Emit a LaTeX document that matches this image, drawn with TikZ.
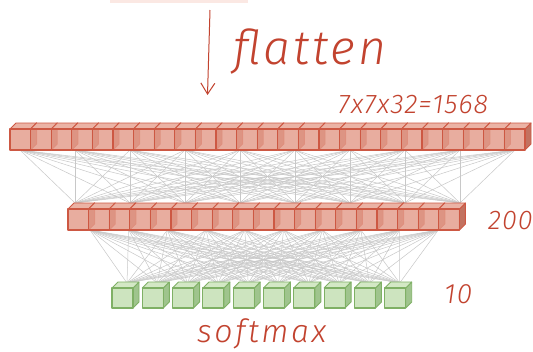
\documentclass[tikz,border=0pt]{standalone}
\usepackage{fontspec}
\usetikzlibrary{arrows.meta}
\newfontfamily\handfont{Fira Sans}[UprightFont=* Light, ItalicFont=* Light Italic]

\definecolor{ink}{HTML}{C2432F}
\definecolor{stripe}{HTML}{FBE8E3}
\definecolor{redfront}{HTML}{E39C8B}
\definecolor{redtop}{HTML}{EBB3A5}
\definecolor{redside}{HTML}{C27260}
\definecolor{rededge}{HTML}{CD5843}
\definecolor{grnfront}{HTML}{C3DFB1}
\definecolor{grntop}{HTML}{D3E8C5}
\definecolor{grnside}{HTML}{9FC48D}
\definecolor{grnedge}{HTML}{7FB065}
\definecolor{wire}{HTML}{C8C8C8}

\tikzset{
  hand/.style={text=ink, inner sep=0pt},
  wireline/.style={draw=wire, line width=0.5pt},
  % a cube: front width, height, depth, colour set (red / grn)
  pics/cube/.style n args={4}{code={
    \path[fill=#4side, draw=#4edge, line width=0.9pt, line join=round]
      (#1,0) -- (#1+#3,-#3) -- (#1+#3,#2-#3) -- (#1,#2) -- cycle;
    \path[fill=#4top, draw=#4edge, line width=0.9pt, line join=round]
      (0,0) -- (#3,-#3) -- (#1+#3,-#3) -- (#1,0) -- cycle;
    \path[fill=#4front, fill opacity=0.82, draw=#4edge, line width=1.1pt, line join=round]
      (0,0) rectangle (#1,#2);
  }}
}

\begin{document}
\begin{tikzpicture}[x=1pt,y=-1pt]
  \useasboundingbox (0,0) rectangle (533,351);
  \fill[white] (0,0) rectangle (533,351);

  % faint strip left over from the layer above
  \fill[stripe] (110,0) rectangle (248,2.5);

  % flatten arrow and label
  \coordinate (arrtop) at (210,10);
  \coordinate (arrtip) at (207.5,95);
  \draw[ink, line width=1pt, -{Straight Barb[length=11pt,width=14pt,line width=1pt]}] (arrtop) -- (arrtip);
  \node[hand, anchor=base west, font=\fontsize{48}{54}\handfont\itshape\addfontfeatures{LetterSpace=6}] (flat) at (233,64) {flatten};

  % connection points
  \foreach \k in {0,...,9} \coordinate (a\k) at ({20+55*\k},150);
  \foreach \k in {0,...,7} \coordinate (b\k) at ({75+55*\k},203);
  \foreach \k in {0,...,9} \coordinate (c\k) at ({90+38.7*\k},230);
  \foreach \k in {0,...,9} \coordinate (g\k) at ({127+30.3*\k},283);

  % dense connections
  \foreach \i in {0,...,9}
    \foreach \j in {0,...,7}
      \draw[wireline] (a\i) -- (b\j);
  \foreach \i in {0,...,9}
    \foreach \j in {0,...,9}
      \draw[wireline] (c\i) -- (g\j);

  % flattened layer: 25 cubes
  \foreach \i in {0,...,24}
    \pic at ({10+20.6*\i},129) {cube={20.6}{21}{6}{red}};
  % hidden layer: 19 cubes
  \foreach \i in {0,...,18}
    \pic at ({68+20.6*\i},209) {cube={20.6}{21}{6}{red}};
  % output layer: 10 cubes
  \foreach \i in {0,...,9}
    \pic at ({112+30.3*\i},288) {cube={21}{20}{6}{grn}};

  % layer sizes
  \node[hand, anchor=base west, font=\fontsize{27}{32}\handfont\itshape\addfontfeatures{LetterSpace=4}] (n1) at (338,113) {7x7x32=1568};
  \node[hand, anchor=base west, font=\fontsize{27}{32}\handfont\itshape\addfontfeatures{LetterSpace=4}] (n2) at (488,229) {200};
  \node[hand, anchor=base west, font=\fontsize{28}{32}\handfont\itshape\addfontfeatures{LetterSpace=4}] (n3) at (444,303) {10};
  \node[hand, anchor=base west, font=\fontsize{32}{36}\handfont\itshape\addfontfeatures{LetterSpace=8}] (sm) at (197,342) {softmax};
\end{tikzpicture}
\end{document}
